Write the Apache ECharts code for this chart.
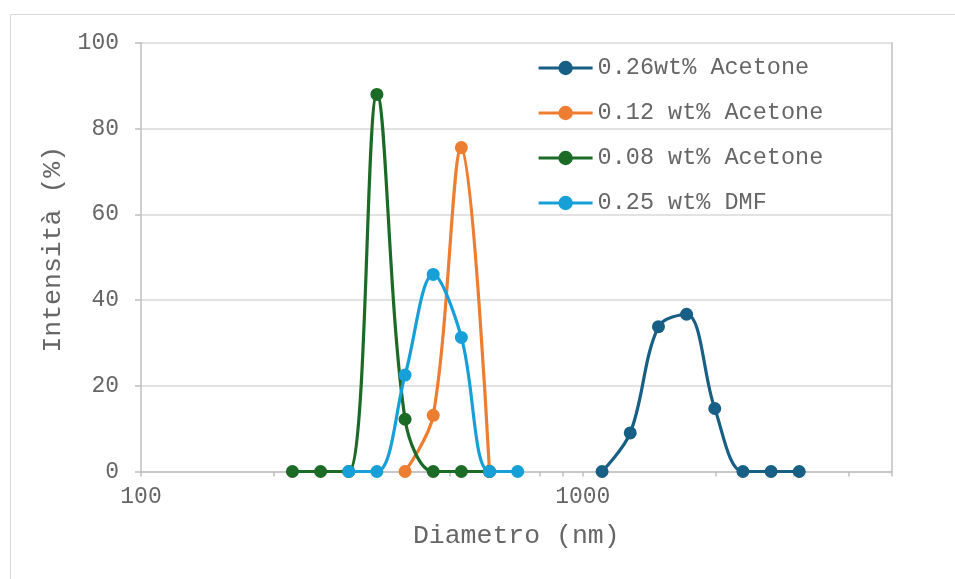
<!DOCTYPE html>
<html>
<head>
<meta charset="utf-8">
<script src="https://cdn.jsdelivr.net/npm/echarts@6/dist/echarts.min.js"></script>
<style>
  html, body { margin: 0; padding: 0; background: #fff; }
  #chart { width: 955px; height: 579px; }
</style>
</head>
<body>
<div id="chart"></div>
<script>
// Size distributions (diameter in nm, intensity in %)
const acetone026X = [1106, 1281, 1484, 1718, 1990, 2305, 2669, 3091];
const acetone026Y = [0, 9.0, 33.8, 36.7, 14.7, 0, 0, 0];

const acetone012X = [396.1, 458.7, 531.2, 615.1];
const acetone012Y = [0, 13.1, 75.6, 0];

const acetone008X = [220.2, 255.0, 295.3, 342.0, 396.1, 458.7, 531.2, 615.1];
const acetone008Y = [0, 0, 0, 88.0, 12.2, 0, 0, 0];

const dmf025X = [295.3, 342.0, 396.1, 458.7, 531.2, 615.1, 712.4];
const dmf025Y = [0, 0, 22.5, 46.0, 31.3, 0, 0];

const seriesNames = ['0.26wt% Acetone', '0.12 wt% Acetone', '0.08 wt% Acetone', '0.25 wt% DMF'];
const xLabelValues = [100, 1000];
const xTickValues = [100, 200, 300, 400, 500, 600, 700, 800, 900, 1000, 2000, 3000, 4000, 5000];
const yTicks = [0, 20, 40, 60, 80, 100];

const colors = ['#175f84', '#ed7d31', '#1b6b27', '#17a0d8'];
const FONT = "'Liberation Mono', 'Courier New', monospace";
const TEXT = '#666666';

function pairs(xs, ys) { return xs.map((x, i) => [x, ys[i]]); }

const seriesData = [
  pairs(acetone026X, acetone026Y),
  pairs(acetone012X, acetone012Y),
  pairs(acetone008X, acetone008Y),
  pairs(dmf025X, dmf025Y)
];

const chart = echarts.init(document.getElementById('chart'), null, { renderer: 'canvas' });

chart.setOption({
  backgroundColor: '#fff',
  animation: false,
  graphic: [{
    type: 'rect',
    shape: { x: 10.5, y: 14.5, width: 960, height: 600 },
    style: { fill: 'none', stroke: '#d9d9d9', lineWidth: 1 },
    silent: true
  }],
  grid: { left: 141, right: 63.5, top: 43, bottom: 107.5, containLabel: false },
  legend: {
    orient: 'vertical',
    left: 537,
    top: 56,
    padding: 0,
    itemWidth: 54,
    itemHeight: 18,
    itemGap: 21,
    data: seriesNames,
    lineStyle: { width: 3.2 },
    textStyle: { fontFamily: FONT, fontSize: 23.5, color: TEXT, lineHeight: 24 }
  },
  xAxis: {
    type: 'log',
    logBase: 10,
    min: 100,
    max: 5000,
    name: 'Diametro (nm)',
    nameLocation: 'middle',
    nameGap: 51,
    nameTextStyle: { fontFamily: FONT, fontSize: 26.5, color: TEXT },
    axisLine: { show: true, lineStyle: { color: '#bfbfbf', width: 1.5 } },
    axisTick: { show: true, length: 5, lineStyle: { color: '#bfbfbf', width: 1.5 }, customValues: xTickValues },
    axisLabel: { fontFamily: FONT, fontSize: 23, color: TEXT, margin: 14, customValues: xLabelValues,
      formatter: v => String(Math.round(v)) },
    splitLine: { show: false },
    minorTick: { show: false }
  },
  yAxis: [{
    type: 'value',
    min: 0,
    max: 100,
    interval: 20,
    name: 'Intensità (%)',
    nameLocation: 'middle',
    nameGap: 63,
    nameRotate: 90,
    nameTextStyle: { fontFamily: FONT, fontSize: 26.5, color: TEXT, padding: [0, 0, 0, 16] },
    axisLine: { show: true, lineStyle: { color: '#bfbfbf', width: 1.5 } },
    axisTick: { show: true, length: 6, lineStyle: { color: '#bfbfbf', width: 1.5 } },
    axisLabel: { fontFamily: FONT, fontSize: 23, color: TEXT, margin: 22,
      formatter: v => (yTicks.indexOf(v) >= 0 ? String(v) : '') },
    splitLine: { show: true, lineStyle: { color: '#d9d9d9', width: 1.5 } }
  }, {
    type: 'value',
    position: 'right',
    min: 0,
    max: 100,
    interval: 20,
    axisLine: { show: true, lineStyle: { color: '#bfbfbf', width: 1.5 } },
    axisTick: { show: false },
    axisLabel: { show: false },
    splitLine: { show: false }
  }],
  series: seriesNames.map((name, i) => ({
    name: name,
    type: 'line',
    data: seriesData[i],
    smooth: 0.35,
    symbol: 'circle',
    symbolSize: 13,
    showSymbol: true,
    color: colors[i],
    lineStyle: { width: 3.2, color: colors[i] },
    itemStyle: { color: colors[i] },
    z: 2 + i
  }))
});
</script>
</body>
</html>
